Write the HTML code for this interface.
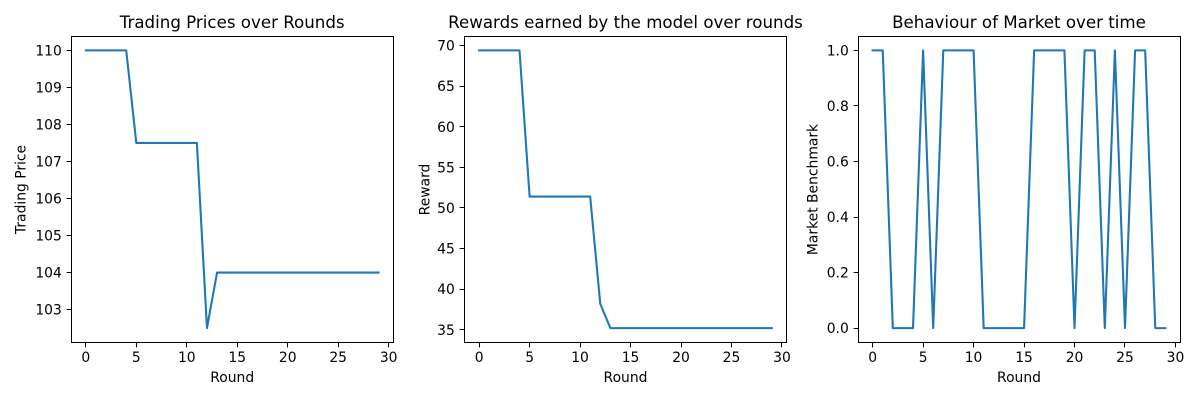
<!DOCTYPE html>
<html lang="en">
<head>
<meta charset="utf-8">
<title>Trading charts</title>
<style>
  html, body { margin: 0; padding: 0; background: #fff; }
  body { width: 1200px; height: 400px; overflow: hidden; }
  svg { display: block; }
  text { font-family: "DejaVu Sans", "Liberation Sans", sans-serif; fill: #000; }
  .tick-text, .axis-text { font-size: 13.89px; }
  .title-text { font-size: 16.67px; }
</style>
</head>
<body>
<svg id="figure" xmlns="http://www.w3.org/2000/svg" width="1200" height="400" viewBox="0 0 1200 400"></svg>
<script>
const rounds = [0,1,2,3,4,5,6,7,8,9,10,11,12,13,14,15,16,17,18,19,20,21,22,23,24,25,26,27,28,29];
const tradingPrices = [110,110,110,110,110,107.5,107.5,107.5,107.5,107.5,107.5,107.5,102.5,104,104,104,104,104,104,104,104,104,104,104,104,104,104,104,104,104];
const rewards = [69.4,69.4,69.4,69.4,69.4,51.4,51.4,51.4,51.4,51.4,51.4,51.4,38.2,35.2,35.2,35.2,35.2,35.2,35.2,35.2,35.2,35.2,35.2,35.2,35.2,35.2,35.2,35.2,35.2,35.2];
const marketBenchmark = [1,1,0,0,0,1,0,1,1,1,1,0,0,0,0,0,1,1,1,1,0,1,1,0,1,0,1,1,0,0];
const roundTicks = [0,5,10,15,20,25,30];
const priceTicks = [103,104,105,106,107,108,109,110];
const priceTickLabels = ["103","104","105","106","107","108","109","110"];
const rewardTicks = [35,40,45,50,55,60,65,70];
const rewardTickLabels = ["35","40","45","50","55","60","65","70"];
const marketTicks = [0,0.2,0.4,0.6,0.8,1];
const marketTickLabels = ["0.0","0.2","0.4","0.6","0.8","1.0"];

const NS = "http://www.w3.org/2000/svg";
const figure = document.getElementById("figure");
const AXIS_TOP = 36.5, AXIS_BOTTOM = 342.5, AXIS_WIDTH = 322;

function svgEl(tag, parent, name) {
  const el = document.createElementNS(NS, tag);
  
  
  parent.appendChild(el);
  return el;
}

function linearScale(d0, d1, r0, r1) {
  return v => r0 + (v - d0) * (r1 - r0) / (d1 - d0);
}

function snap(v) {
  return Math.floor(v) + 0.5;
}

function drawPanel(slug, left, shift, xValues, yValues, yTicks, yTickLabels, title, yLabel, yLabelX) {
  const g = svgEl("g", figure, slug + "-panel");
  const right = left + AXIS_WIDTH;
  const xMin = Math.min(...xValues), xMax = Math.max(...xValues);
  const yMin = Math.min(...yValues), yMax = Math.max(...yValues);
  const xPad = (xMax - xMin) * 0.05, yPad = (yMax - yMin) * 0.05;
  const x = linearScale(xMin - xPad, xMax + xPad, left - shift, right - shift);
  const y = linearScale(yMin - yPad, yMax + yPad, AXIS_BOTTOM - 0.5, AXIS_TOP);

  const frame = svgEl("rect", g, slug + "-plot-area");
  frame.setAttribute("x", left);
  frame.setAttribute("y", AXIS_TOP);
  frame.setAttribute("width", AXIS_WIDTH);
  frame.setAttribute("height", AXIS_BOTTOM - AXIS_TOP);
  frame.setAttribute("fill", "#fff");
  frame.setAttribute("stroke", "#000");
  frame.setAttribute("stroke-width", "1");

  roundTicks.forEach(t => {
    const px = x(t);
    const tick = svgEl("line", g, slug + "-x-tick-" + t);
    tick.setAttribute("x1", snap(px));
    tick.setAttribute("x2", snap(px));
    tick.setAttribute("y1", AXIS_BOTTOM);
    tick.setAttribute("y2", AXIS_BOTTOM + 4.86);
    tick.setAttribute("stroke", "#000");
    tick.setAttribute("stroke-width", "1");
    const label = svgEl("text", g, slug + "-x-tick-label-" + t);
    label.setAttribute("class", "tick-text");
    label.setAttribute("x", px);
    label.setAttribute("y", 362);
    label.setAttribute("text-anchor", "middle");
    label.textContent = String(t);
  });

  yTicks.forEach((t, i) => {
    const py = y(t);
    const tick = svgEl("line", g, slug + "-y-tick-" + yTickLabels[i]);
    tick.setAttribute("x1", left - 4.86);
    tick.setAttribute("x2", left);
    tick.setAttribute("y1", snap(py));
    tick.setAttribute("y2", snap(py));
    tick.setAttribute("stroke", "#000");
    tick.setAttribute("stroke-width", "1");
    const label = svgEl("text", g, slug + "-y-tick-label-" + yTickLabels[i]);
    label.setAttribute("class", "tick-text");
    label.setAttribute("x", left - 9.7);
    label.setAttribute("y", py + 5.05);
    label.setAttribute("text-anchor", "end");
    label.textContent = yTickLabels[i];
  });

  const series = svgEl("polyline", g, slug + "-line");
  series.setAttribute("points", xValues.map((v, i) => x(v).toFixed(2) + "," + y(yValues[i]).toFixed(2)).join(" "));
  series.setAttribute("fill", "none");
  series.setAttribute("stroke", "#1f77b4");
  series.setAttribute("stroke-width", "2.08");
  series.setAttribute("stroke-linejoin", "round");
  series.setAttribute("stroke-linecap", "square");

  const titleEl = svgEl("text", g, slug + "-title");
  titleEl.setAttribute("class", "title-text");
  titleEl.setAttribute("x", left - shift + AXIS_WIDTH / 2);
  titleEl.setAttribute("y", 28);
  titleEl.setAttribute("text-anchor", "middle");
  titleEl.textContent = title;

  const xTitle = svgEl("text", g, slug + "-x-axis-title");
  xTitle.setAttribute("class", "axis-text");
  xTitle.setAttribute("x", left - shift + AXIS_WIDTH / 2);
  xTitle.setAttribute("y", 382);
  xTitle.setAttribute("text-anchor", "middle");
  xTitle.textContent = "Round";

  const yTitle = svgEl("text", g, slug + "-y-axis-title");
  yTitle.setAttribute("class", "axis-text");
  yTitle.setAttribute("text-anchor", "middle");
  yTitle.setAttribute("transform", "translate(" + yLabelX + " " + (AXIS_TOP + AXIS_BOTTOM) / 2 + ") rotate(-90)");
  yTitle.textContent = yLabel;
}

drawPanel("trading-price", 71.5, 0.3, rounds, tradingPrices, priceTicks, priceTickLabels, "Trading Prices over Rounds", "Trading Price", 25.5);
drawPanel("reward", 464.5, 0, rounds, rewards, rewardTicks, rewardTickLabels, "Rewards earned by the model over rounds", "Reward", 429.5);
drawPanel("market", 858.5, 0.5, rounds, marketBenchmark, marketTicks, marketTickLabels, "Behaviour of Market over time", "Market Benchmark", 817.5);
</script>
</body>
</html>
